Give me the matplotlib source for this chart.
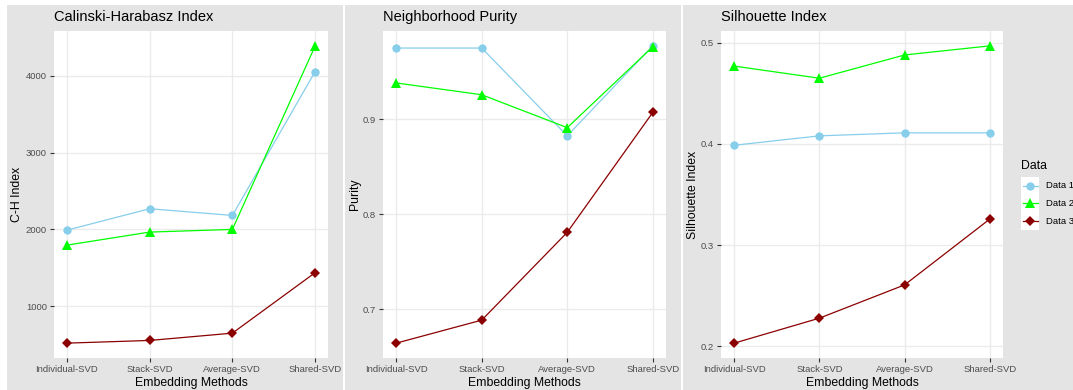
import matplotlib
matplotlib.use("Agg")
import matplotlib.pyplot as plt
from matplotlib.patches import Rectangle
from matplotlib.lines import Line2D

plt.rcParams['font.family'] = ['Liberation Sans', 'DejaVu Sans']

methods = ["Individual-SVD", "Stack-SVD", "Average-SVD", "Shared-SVD"]
series_names = ["Data 1", "Data 2", "Data 3"]

ch_index = {
    "Data 1": [1990, 2269, 2182, 4056],
    "Data 2": [1795, 1965, 2000, 4390],
    "Data 3": [519, 554, 649, 1437],
}
purity = {
    "Data 1": [0.9747, 0.9747, 0.8824, 0.977],
    "Data 2": [0.938, 0.9256, 0.891, 0.976],
    "Data 3": [0.6645, 0.6887, 0.781, 0.907],
}
silhouette = {
    "Data 1": [0.3987, 0.408, 0.411, 0.411],
    "Data 2": [0.477, 0.465, 0.488, 0.497],
    "Data 3": [0.203, 0.2277, 0.2606, 0.3257],
}

panel_titles = ["Calinski-Harabasz Index", "Neighborhood Purity", "Silhouette Index"]
y_labels = ["C-H Index", "Purity", "Silhouette Index"]
y_ticks = [[1000, 2000, 3000, 4000], [0.7, 0.8, 0.9], [0.2, 0.3, 0.4, 0.5]]
y_ticklabels = [["1000", "2000", "3000", "4000"], ["0.7", "0.8", "0.9"], ["0.2", "0.3", "0.4", "0.5"]]
x_label = "Embedding Methods"
legend_title = "Data"

colors = {"Data 1": "#87CEEB", "Data 2": "#00FF00", "Data 3": "#8B0000"}
markers = {"Data 1": "o", "Data 2": "^", "Data 3": "D"}
msizes = {"Data 1": 6, "Data 2": 6.5, "Data 3": 5}

W, H = 1073, 390
fig = plt.figure(figsize=(W / 100, H / 100), dpi=100, facecolor="white")

GREY = "#E4E4E4"
# panel backgrounds (pixel coords, top-left origin)
panels = [(7, 343), (345, 681), (683, 1073)]
for x0, x1 in panels:
    fig.patches.append(Rectangle((x0 / W, 0), (x1 - x0) / W, (H - 5) / H,
                                 transform=fig.transFigure, facecolor=GREY,
                                 edgecolor="none", zorder=-5))

axes_px = [(54, 328), (383, 666), (721, 1003)]
top_px, bot_px = 31, 358
datasets = [ch_index, purity, silhouette]
ylabel_x = [17, 355, 693]

for i, (data, (x0, x1)) in enumerate(zip(datasets, axes_px)):
    ax = fig.add_axes([x0 / W, (H - bot_px) / H, (x1 - x0) / W, (bot_px - top_px) / H])
    ax.set_zorder(1)
    ax.set_facecolor("white")
    xs = list(range(len(methods)))
    for name in series_names:
        ax.plot(xs, data[name], color=colors[name], lw=0.9, marker=markers[name],
                markersize=msizes[name], markeredgewidth=0, zorder=3)
    ax.set_xlim(-0.155, 3.155)
    ax.margins(y=0.05)
    ax.set_xticks(xs)
    ax.set_xticklabels(methods)
    ax.set_yticks(y_ticks[i])
    ax.set_yticklabels(y_ticklabels[i])
    ax.tick_params(axis="both", labelsize=6.8, labelcolor="#4D4D4D", color="#333333",
                   length=3, width=0.8, pad=2)
    ax.grid(True, color="#EBEBEB", lw=1.0, zorder=0)
    ax.set_axisbelow(True)
    for s in ax.spines.values():
        s.set_visible(False)
    ax.text(0, 1 + 14 / (bot_px - top_px), panel_titles[i], transform=ax.transAxes,
            ha="left", va="center", fontsize=10.5, color="black")
    fig.text(((x0 + x1) / 2) / W, (H - 383) / H, x_label, ha="center", va="center",
             fontsize=8.8, color="black")
    fig.text(ylabel_x[i] / W, (H - (top_px + bot_px) / 2) / H, y_labels[i],
             rotation=90, ha="center", va="center", fontsize=8.8, color="black")

# legend
fig.text(1021 / W, (H - 166) / H, legend_title, ha="left", va="center", fontsize=8.8)
fig.patches.append(Rectangle((1021 / W, (H - 230) / H), 18 / W, 53 / H,
                             transform=fig.transFigure, facecolor="white",
                             edgecolor="none", zorder=1))
row_y = [186, 203, 221]
for name, ry in zip(series_names, row_y):
    ln = Line2D([1022.5 / W, 1030 / W, 1037.5 / W], [(H - ry) / H] * 3,
                transform=fig.transFigure, color=colors[name], lw=0.9,
                marker=markers[name], markersize=msizes[name], markeredgewidth=0,
                markevery=[1], zorder=2)
    fig.lines.append(ln)
    fig.text(1046 / W, (H - ry) / H, name, ha="left", va="center", fontsize=6.8,
             color="black")

fig.savefig("out.png", dpi=100, facecolor="white")
